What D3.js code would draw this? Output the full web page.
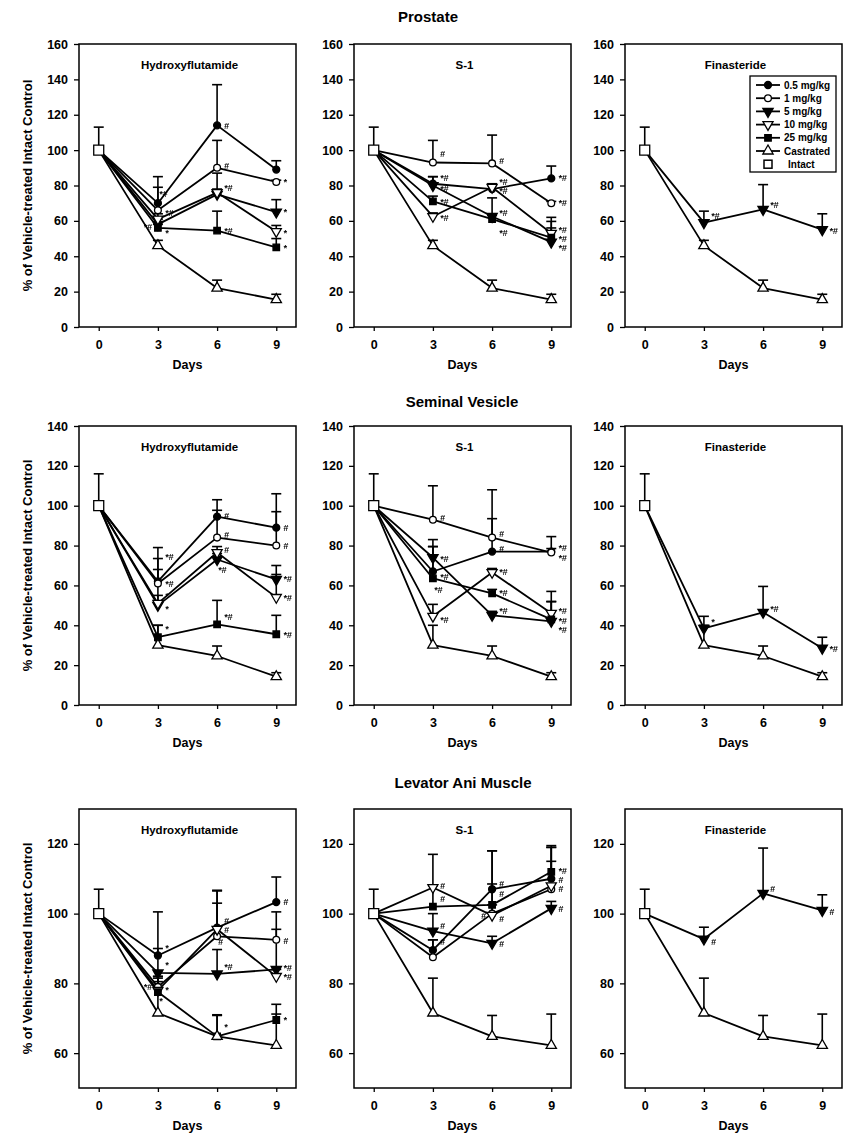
<!DOCTYPE html>
<html><head><meta charset="utf-8">
<script src="https://cdn.jsdelivr.net/npm/d3@7"></script>
<style>
html,body{margin:0;padding:0;background:#fff;}
svg{display:block;font-family:"Liberation Sans",Arial,Helvetica,sans-serif;font-weight:bold;}
.notes text{font-variant-emoji:text;}
</style></head>
<body><svg id="chart" width="855" height="1144"></svg>
<script>
// ---------- data ----------
const days = [0, 3, 6, 9];
const rowTitles = ["Prostate", "Seminal Vesicle", "Levator Ani Muscle"];
const drugNames = ["Hydroxyflutamide", "S-1", "Finasteride"];
const legendNames = ["0.5 mg/kg", "1 mg/kg", "5 mg/kg", "10 mg/kg", "25 mg/kg", "Castrated", "Intact"];
const yTicksProstate = [0, 20, 40, 60, 80, 100, 120, 140, 160];
const yTicksSV = [0, 20, 40, 60, 80, 100, 120, 140];
const yTicksLA = [60, 80, 100, 120];
const yDomainProstate = [0, 160];
const yDomainSV = [0, 140];
const yDomainLA = [50, 130];
const dayTicks = [0, 3, 6, 9];

// intact controls (day 0) mean and SD
const intactMean = [100, 100, 100];
const intactErr = [13, 16, 7];

// castrated controls
const castProst = [100, 46, 22, 15.5];
const castProstErr = [0, 3, 4.5, 3];
const castSV = [100, 30, 24.6, 14.2];
const castSVErr = [0, 10, 5, 2];
const castLA = [100, 71.5, 64.8, 62.2];
const castLAErr = [0, 10, 6, 9];

// Prostate – Hydroxyflutamide
const pHF05 = [100, 70, 114, 89];   const pHF05Err = [0, 15, 23, 5];
const pHF1  = [100, 66, 90, 82];    const pHF1Err  = [0, 13, 15.5, 1];
const pHF5  = [100, 58, 75, 65];    const pHF5Err  = [0, 3, 3, 7];
const pHF10 = [100, 61, 76, 54];    const pHF10Err = [0, 3, 11, 3.4];
const pHF25 = [100, 56, 54.5, 45];  const pHF25Err = [0, 2, 11, 5];
// Prostate – S-1
const pS05 = [100, 81, 78, 84];     const pS05Err = [0, 4, 2, 7];
const pS1  = [100, 93, 92.5, 70];   const pS1Err  = [0, 12.5, 16, 1];
const pS5  = [100, 80, 62.5, 48];   const pS5Err  = [0, 5, 10.5, 11.7];
const pS10 = [100, 62.5, 79, 53];   const pS10Err = [0, 2, 2, 3];
const pS25 = [100, 71, 61, 50.5];   const pS25Err = [0, 3, 2, 11.5];
// Prostate – Finasteride
const pFin = [100, 59, 66.5, 55];   const pFinErr = [0, 6.5, 14, 9];

// Seminal vesicle – Hydroxyflutamide
const sHF05 = [100, 62, 94.5, 89];  const sHF05Err = [0, 17, 8.5, 17];
const sHF1  = [100, 61, 84, 80];    const sHF1Err  = [0, 12.5, 13.7, 17];
const sHF5  = [100, 50, 73, 63];    const sHF5Err  = [0, 18, 3, 7];
const sHF10 = [100, 51, 76.5, 54];  const sHF10Err = [0, 4, 3, 11.5];
const sHF25 = [100, 34, 40.5, 35.5];const sHF25Err = [0, 6, 12, 9.5];
// Seminal vesicle – S-1
const sS05 = [100, 67, 77, 77];     const sS05Err = [0, 12.5, 16.5, 1.5];
const sS1  = [100, 93, 84, 76.5];   const sS1Err  = [0, 17, 24, 8];
const sS5  = [100, 74, 45, 42];     const sS5Err  = [0, 9, 2, 9.8];
const sS10 = [100, 44.5, 66.5, 46]; const sS10Err = [0, 6, 2, 11];
const sS25 = [100, 63.5, 56, 43];   const sS25Err = [0, 16, 2, 9];
// Seminal vesicle – Finasteride
const sFin = [100, 38.5, 46.5, 28.5]; const sFinErr = [0, 6, 13, 5.5];

// Levator ani – Hydroxyflutamide
const lHF05 = [100, 88, 96, 103.3]; const lHF05Err = [0, 12.5, 10.7, 7.2];
const lHF1  = [100, 79, 93.5, 92.5];const lHF1Err  = [0, 3, 9.5, 8];
const lHF5  = [100, 83, 82.7, 84];  const lHF5Err  = [0, 7, 7, 11.5];
const lHF10 = [100, 78, 95.5, 82];  const lHF10Err = [0, 4, 11, 2];
const lHF25 = [100, 77.5, 64.8, 69.5]; const lHF25Err = [0, 3, 6.2, 4.5];
// Levator ani – S-1
const lS05 = [100, 89.5, 107, 110]; const lS05Err = [0, 3, 11, 9];
const lS1  = [100, 87.5, 100, 107]; const lS1Err  = [0, 5, 18, 8];
const lS5  = [100, 95, 91.5, 101.5];const lS5Err  = [0, 5, 2, 2];
const lS10 = [100, 107.5, 99.5, 108]; const lS10Err = [0, 9.5, 3, 11];
const lS25 = [100, 102, 102.5, 112]; const lS25Err = [0, 6, 6, 7.5];
// Levator ani – Finasteride
const lFin = [100, 92.7, 105.8, 100.9]; const lFinErr = [0, 3.4, 13, 4.5];

// significance marks: [day, value, text, side]
const notesPHF = [[3,75.3,"*#","C"],[3,64.6,"*#","R"],[3,56.5,"*#","L"],[3,53.3,"*","R"],
  [6,114,"#","R"],[6,91,"#","R"],[6,78.7,"*#","R"],[6,54.6,"*#","R"],
  [9,82,"*","R"],[9,65,"*","R"],[9,53.5,"*","R"],[9,44.8,"*","R"]];
const notesPS = [[3,98,"#","R"],[3,84.4,"*#","R"],[3,78,"*#","R"],[3,71,"*#","R"],[3,61.5,"*#","R"],
  [6,94,"#","R"],[6,82,"*#","R"],[6,76.8,"*#","R"],[6,64.8,"*#","R"],[6,53.5,"*#","R"],
  [9,84.4,"*#","R"],[9,70,"*#","R"],[9,55.2,"*#","R"],[9,50,"*#","R"],[9,44.8,"*#","R"]];
const notesPFin = [[3,63,"*#","R"],[6,69.2,"*#","R"],[9,54.5,"*#","R"]];
const notesSHF = [[3,74.3,"*#","R"],[3,61,"*#","R"],[3,54.6,"*","R"],[3,48.4,"*","R"],[3,38.4,"*","R"],
  [6,94.7,"#","R"],[6,85.5,"#","R"],[6,78,"#","R"],[6,68,"*#","C"],[6,44.3,"*#","R"],
  [9,88.9,"#","R"],[9,79.7,"#","R"],[9,63.1,"*#","R"],[9,54,"*#","R"],[9,35.4,"*#","R"]];
const notesSS = [[3,93.9,"#","R"],[3,73.5,"*#","R"],[3,64.3,"*#","R"],[3,57.6,"*#","C"],[3,42.9,"*#","R"],
  [6,85.7,"#","R"],[6,78.5,"#","R"],[6,66.8,"*#","R"],[6,56.5,"*#","R"],[6,47.3,"*#","R"],
  [9,79,"*#","R"],[9,73.8,"*#","R"],[9,47,"*#","R"],[9,42.3,"*#","R"],[9,37.6,"*#","R"]];
const notesSFin = [[3,41.8,"*","R"],[6,48.4,"*#","R"],[9,28.4,"*#","R"]];
const notesLHF = [[3,90.3,"*","R"],[3,85.2,"*","R"],[3,78.2,"*","R"],[3,78.9,"*#","L"],[3,75.1,"*","C"],
  [6,98,"#","R"],[6,95.4,"#","R"],[6,91.8,"#","C"],[6,84.7,"*#","R"],[6,67.5,"*","R"],
  [9,103.3,"#","R"],[9,92.2,"#","R"],[9,84.4,"*#","R"],[9,81.8,"*#","R"],[9,69.6,"*","R"]];
const notesLS = [[3,108,"#","R"],[3,104.2,"#","R"],[3,96.6,"#","R"],[3,92,"#","R"],
  [6,108.5,"#","R"],[6,105.6,"#","R"],[6,99.4,"#","L"],[6,98.5,"#","R"],[6,91.3,"#","R"],
  [9,112.4,"*#","R"],[9,109.8,"#","R"],[9,107.1,"#","R"],[9,101.3,"#","R"]];
const notesLFin = [[3,92,"#","R"],[6,107.1,"#","R"],[9,100.6,"#","R"]];

// ---------- assemble panels ----------
const N = legendNames;
const rowsDef = [
  {domain: yDomainProstate, ticks: yTicksProstate, cast: [castProst, castProstErr], panels: [
    {series: [[N[0],pHF05,pHF05Err],[N[1],pHF1,pHF1Err],[N[2],pHF5,pHF5Err],[N[3],pHF10,pHF10Err],[N[4],pHF25,pHF25Err]], notes: notesPHF},
    {series: [[N[0],pS05,pS05Err],[N[1],pS1,pS1Err],[N[2],pS5,pS5Err],[N[3],pS10,pS10Err],[N[4],pS25,pS25Err]], notes: notesPS},
    {series: [[N[2],pFin,pFinErr]], notes: notesPFin, legend: true}]},
  {domain: yDomainSV, ticks: yTicksSV, cast: [castSV, castSVErr], panels: [
    {series: [[N[0],sHF05,sHF05Err],[N[1],sHF1,sHF1Err],[N[2],sHF5,sHF5Err],[N[3],sHF10,sHF10Err],[N[4],sHF25,sHF25Err]], notes: notesSHF},
    {series: [[N[0],sS05,sS05Err],[N[1],sS1,sS1Err],[N[2],sS5,sS5Err],[N[3],sS10,sS10Err],[N[4],sS25,sS25Err]], notes: notesSS},
    {series: [[N[2],sFin,sFinErr]], notes: notesSFin}]},
  {domain: yDomainLA, ticks: yTicksLA, cast: [castLA, castLAErr], panels: [
    {series: [[N[0],lHF05,lHF05Err],[N[1],lHF1,lHF1Err],[N[2],lHF5,lHF5Err],[N[3],lHF10,lHF10Err],[N[4],lHF25,lHF25Err]], notes: notesLHF},
    {series: [[N[0],lS05,lS05Err],[N[1],lS1,lS1Err],[N[2],lS5,lS5Err],[N[3],lS10,lS10Err],[N[4],lS25,lS25Err]], notes: notesLS},
    {series: [[N[2],lFin,lFinErr]], notes: notesLFin}]}
];

// ---------- layout & style ----------
const colX = [79, 354, 625];
const frameW = 217;
const rowY = [44, 426, 809];
const frameH = [283, 279, 279];
const rowTitleY = [16, 401, 782];
const rowTitleX = [428, 462, 463];

const markers = {
  "0.5 mg/kg": {t: d3.symbolCircle, s: 38, f: "#000", r: 0},
  "1 mg/kg":   {t: d3.symbolCircle, s: 36, f: "#fff", r: 0},
  "5 mg/kg":   {t: d3.symbolTriangle, s: 46, f: "#000", r: 180},
  "10 mg/kg":  {t: d3.symbolTriangle, s: 44, f: "#fff", r: 180},
  "25 mg/kg":  {t: d3.symbolSquare, s: 42, f: "#000", r: 0},
  "Castrated": {t: d3.symbolTriangle, s: 46, f: "#fff", r: 0},
  "Intact":    {t: d3.symbolSquare, s: 100, f: "#fff", r: 0}
};

const svg = d3.select("#chart");
const defs = svg.append("defs");
defs.append("filter").attr("id", "gray").attr("x", "-20%").attr("y", "-20%").attr("width", "140%").attr("height", "140%")
  .append("feColorMatrix").attr("type", "saturate").attr("values", "0");
svg.append("rect").attr("width", 855).attr("height", 1144).attr("fill", "#fff");

function drawMarker(g, name, x, y) {
  const m = markers[name];
  g.append("path")
    .attr("d", d3.symbol().type(m.t).size(m.s)())
    .attr("transform", `translate(${x},${y}) rotate(${m.r})`)
    .attr("fill", m.f).attr("stroke", "#000").attr("stroke-width", 1.3);
}

rowsDef.forEach((row, ri) => {
  svg.append("text").attr("x", rowTitleX[ri]).attr("y", rowTitleY[ri])
    .attr("text-anchor", "middle").attr("dominant-baseline", "central")
    .attr("font-size", 15).text(rowTitles[ri]);

  const H = frameH[ri];
  const y0 = rowY[ri];
  svg.append("text")
    .attr("transform", `translate(27,${y0 + H / 2}) rotate(-90)`)
    .attr("text-anchor", "middle").attr("dominant-baseline", "central")
    .attr("font-size", 13).text("% of Vehicle-treated Intact Control");

  row.panels.forEach((p, ci) => {
    const x0 = colX[ci];
    const g = svg.append("g").attr("transform", `translate(${x0},${y0})`);
    const x = d3.scaleLinear().domain([-1, 10]).range([0, frameW]);
    const y = d3.scaleLinear().domain(row.domain).range([H, 0]);

    const ya = g.append("g").call(d3.axisLeft(y).tickValues(row.ticks).tickSize(5).tickPadding(6).tickFormat(d3.format("d")));
    const xa = g.append("g").attr("transform", `translate(0,${H})`)
      .call(d3.axisBottom(x).tickValues(dayTicks).tickSize(4).tickPadding(9).tickFormat(d3.format("d")));
    [ya, xa].forEach(a => {
      a.select(".domain").remove();
      a.selectAll("line").attr("stroke", "#000").attr("stroke-width", 1.3);
      a.selectAll("text").attr("font-size", 12.5).attr("font-weight", "bold")
        .attr("font-family", '"Liberation Sans",Arial,sans-serif').attr("fill", "#000");
    });
    g.append("rect").attr("width", frameW).attr("height", H)
      .attr("fill", "none").attr("stroke", "#000").attr("stroke-width", 1.5);
    g.append("text").attr("x", frameW / 2).attr("y", H + 42)
      .attr("text-anchor", "middle").attr("font-size", 12.5).text("Days");
    g.append("text").attr("x", frameW / 2 + 2).attr("y", 21)
      .attr("text-anchor", "middle").attr("dominant-baseline", "central")
      .attr("font-size", 11.5).text(drugNames[ci]);

    const all = p.series.map(s => ({name: s[0], v: s[1], e: s[2]}));
    all.push({name: "Castrated", v: row.cast[0], e: row.cast[1]});

    const line = d3.line().x((d, i) => x(days[i])).y(d => y(d));
    all.forEach(s => {
      g.append("path").attr("d", line(s.v)).attr("fill", "none")
        .attr("stroke", "#000").attr("stroke-width", 1.8).attr("stroke-linejoin", "round");
    });
    const errG = g.append("g").attr("stroke", "#000").attr("stroke-width", 1.6);
    function errBar(d, v, e) {
      if (!e) return;
      const cx = x(d), top = y(v + e);
      errG.append("line").attr("x1", cx).attr("x2", cx).attr("y1", y(v)).attr("y2", top);
      errG.append("line").attr("x1", cx - 5).attr("x2", cx + 5).attr("y1", top).attr("y2", top);
    }
    errBar(0, intactMean[ri], intactErr[ri]);
    all.forEach(s => s.v.forEach((v, i) => { if (i > 0) errBar(days[i], v, s.e[i]); }));
    all.forEach(s => s.v.forEach((v, i) => { if (i > 0) drawMarker(g, s.name, x(days[i]), y(v)); }));
    drawMarker(g, "Intact", x(0), y(intactMean[ri]));

    const ng = g.append("g").attr("class", "notes").attr("filter", "url(#gray)");
    p.notes.forEach(n => {
      const [d, v, t, side] = n;
      let tx = x(d) + 7, anchor = "start";
      if (side === "L") { tx = x(d) - 6; anchor = "end"; }
      if (side === "C") { tx = x(d) + 1; anchor = "start"; }
      ng.append("text").attr("x", tx).attr("y", y(v)).attr("dy", "0.35em")
        .attr("text-anchor", anchor).attr("font-size", 9).attr("font-style", "italic")
        .attr("fill", "#000").text(t);
    });

    if (p.legend) {
      const lg = g.append("g").attr("transform", `translate(${750 - x0},${76 - y0})`);
      lg.append("rect").attr("width", 86).attr("height", 96)
        .attr("fill", "#fff").attr("stroke", "#000").attr("stroke-width", 1.3);
      legendNames.forEach((nm, i) => {
        const ly = 9 + i * 13.2;
        if (nm !== "Intact") {
          lg.append("line").attr("x1", 6).attr("x2", 30).attr("y1", ly).attr("y2", ly)
            .attr("stroke", "#000").attr("stroke-width", 1.8);
          drawMarker(lg, nm, 18, ly);
        } else {
          lg.append("rect").attr("x", 14).attr("y", ly - 4).attr("width", 8).attr("height", 8)
            .attr("fill", "#fff").attr("stroke", "#000").attr("stroke-width", 1.5);
        }
        lg.append("text").attr("x", nm === "Intact" ? 38 : 34).attr("y", ly).attr("dy", "0.35em")
          .attr("font-size", 10).text(nm);
      });
    }
  });
});
</script></body></html>
